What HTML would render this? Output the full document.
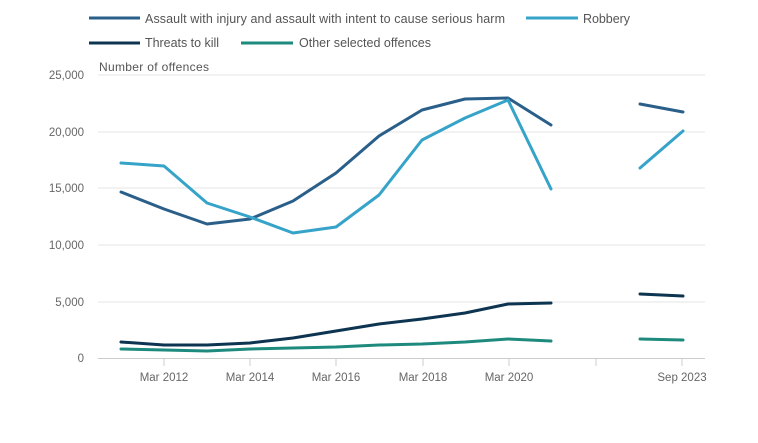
<!DOCTYPE html><html><head><style>body{margin:0;background:#fff}svg{display:block;font-family:"Liberation Sans",sans-serif}</style></head><body>
<svg width="758" height="443" viewBox="0 0 758 443">
<g stroke="#e4e4e4" stroke-width="1">
<line x1="98" x2="705" y1="75" y2="75"/><line x1="98" x2="705" y1="132" y2="132"/><line x1="98" x2="705" y1="188" y2="188"/><line x1="98" x2="705" y1="245" y2="245"/><line x1="98" x2="705" y1="302" y2="302"/>
</g>
<line x1="98" x2="705" y1="358.5" y2="358.5" stroke="#ccc"/>
<g stroke="#ccc"><line x1="164" x2="164" y1="359" y2="366"/><line x1="250" x2="250" y1="359" y2="366"/><line x1="336" x2="336" y1="359" y2="366"/><line x1="423" x2="423" y1="359" y2="366"/><line x1="509" x2="509" y1="359" y2="366"/><line x1="596" x2="596" y1="359" y2="366"/><line x1="682" x2="682" y1="359" y2="366"/></g>
<g fill="#666" font-size="11.5" text-anchor="end"><text x="84" y="79">25,000</text><text x="84" y="136">20,000</text><text x="84" y="192">15,000</text><text x="84" y="249">10,000</text><text x="84" y="306">5,000</text><text x="84" y="362">0</text></g>
<g fill="#666" font-size="11.5" text-anchor="middle"><text x="164" y="381">Mar 2012</text><text x="250" y="381">Mar 2014</text><text x="336" y="381">Mar 2016</text><text x="423" y="381">Mar 2018</text><text x="509" y="381">Mar 2020</text><text x="682" y="381">Sep 2023</text></g>
<text x="99" y="71" fill="#555" font-size="12" textLength="110">Number of offences</text>
<g fill="none" stroke-width="3" stroke-linejoin="round" stroke-linecap="round">
<polyline stroke="#2a5f8a" points="121,192 164,209 207,224 250,219 293,201 336,173 379,136 422,110 465,99 508,98 551,125"/>
<polyline stroke="#2a5f8a" points="640,104 683,112"/>
<polyline stroke="#36a3c9" points="121,163 164,166 207,203 250,217 293,233 336,227 379,195 422,140 465,118 508,100 551,189"/>
<polyline stroke="#36a3c9" points="640,168 683,131"/>
<polyline stroke="#0d3450" points="121,342 164,345 207,345 250,343 293,338 336,331 379,324 422,319 465,313 508,304 551,303"/>
<polyline stroke="#0d3450" points="640,294 683,296"/>
<polyline stroke="#1e8a7e" points="121,349 164,350 207,351 250,349 293,348 336,347 379,345 422,344 465,342 508,339 551,341"/>
<polyline stroke="#1e8a7e" points="640,339 683,340"/>
</g>
<g stroke-width="3"><line x1="89" x2="140" y1="18" y2="18" stroke="#2a5f8a"/><line x1="526" x2="578" y1="18" y2="18" stroke="#36a3c9"/><line x1="89" x2="140" y1="43" y2="43" stroke="#0d3450"/><line x1="241" x2="293" y1="43" y2="43" stroke="#1e8a7e"/></g>
<g fill="#555" font-size="12.5"><text x="145" y="23" textLength="360">Assault with injury and assault with intent to cause serious harm</text><text x="583" y="23" textLength="47">Robbery</text><text x="145" y="47" textLength="74">Threats to kill</text><text x="299" y="47" textLength="132">Other selected offences</text></g>
</svg></body></html>
